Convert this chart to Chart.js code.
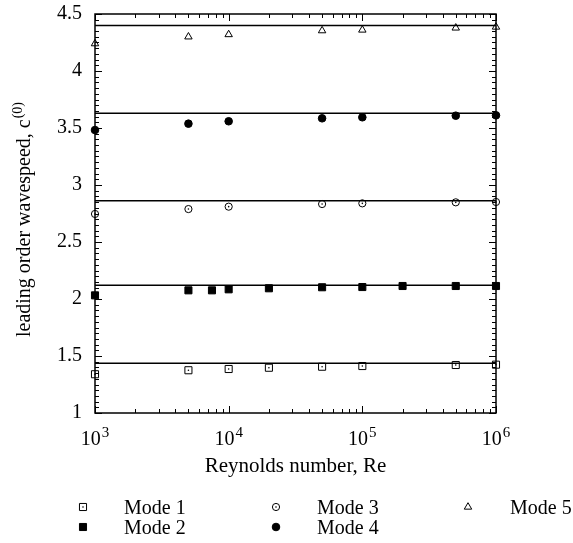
<!DOCTYPE html>
<html>
<head>
<meta charset="utf-8">
<script src="https://cdn.jsdelivr.net/npm/chart.js@4.4.1/dist/chart.umd.min.js"></script>
<style>
  body { margin: 0; background: #fff; }
  #wrap { width: 573px; height: 543px; }
</style>
</head>
<body>
<div id="wrap"><canvas id="waveChart" width="573" height="543"></canvas></div>
<script>
// Reynolds numbers sampled for each mode
const reModes345 = [1e3, 5e3, 1e4, 5e4, 1e5, 5e5, 1e6];
const reMode1 = [1e3, 5e3, 1e4, 2e4, 5e4, 1e5, 5e5, 1e6];
const reMode2 = [1e3, 5e3, 7.5e3, 1e4, 2e4, 5e4, 1e5, 2e5, 5e5, 1e6];

// leading order wavespeed c(0)
const mode1 = [1.340, 1.375, 1.386, 1.397, 1.406, 1.412, 1.421, 1.424];
const mode2 = [2.032, 2.076, 2.076, 2.085, 2.094, 2.103, 2.105, 2.114, 2.114, 2.114];
const mode3 = [2.746, 2.789, 2.810, 2.833, 2.839, 2.848, 2.851];
const mode4 = [3.482, 3.538, 3.559, 3.585, 3.594, 3.608, 3.611];
const mode5 = [4.240, 4.300, 4.320, 4.354, 4.360, 4.378, 4.386];

// asymptotic (large Re) values drawn as horizontal lines
const asymptotes = [1.436, 2.120, 2.862, 3.629, 4.400];
const lineRange = [1e3, 1e6];

const modeLabels = ['Mode 1', 'Mode 2', 'Mode 3', 'Mode 4', 'Mode 5'];
const yTickValues = [1, 1.5, 2, 2.5, 3, 3.5, 4, 4.5];
const xTickExponents = [3, 4, 5, 6];

const FONT = '"Liberation Serif", "DejaVu Serif", serif';

// marker look per mode (open ones get a small centre dot for modes 1 and 3)
const markerStyles = [
    { pointStyle: 'rect', radius: 5, filled: false, dot: true },
    { pointStyle: 'rect', radius: 5, filled: true, dot: false },
    { pointStyle: 'circle', radius: 3.6, filled: false, dot: true },
    { pointStyle: 'circle', radius: 3.8, filled: true, dot: false },
    { pointStyle: 'triangle', radius: 4.3, filled: false, dot: false }
];

const xs = [reMode1, reMode2, reModes345, reModes345, reModes345];
const ys = [mode1, mode2, mode3, mode4, mode5];

const datasets = [];
ys.forEach((vals, m) => {
    const st = markerStyles[m];
    datasets.push({
        label: modeLabels[m],
        data: vals.map((v, i) => ({ x: xs[m][i], y: v })),
        pointStyle: st.pointStyle,
        pointRadius: st.radius,
        pointBorderWidth: 1,
        pointBorderColor: '#000',
        pointBackgroundColor: st.filled ? '#000' : 'rgba(0,0,0,0)',
        showLine: false,
        clip: false,
        order: 0
    });
});
asymptotes.forEach((v, m) => {
    datasets.push({
        label: 'asym' + (m + 1),
        data: lineRange.map(x => ({ x: x, y: v })),
        showLine: true,
        borderColor: '#000',
        borderWidth: 1.5,
        pointRadius: 0,
        order: 1
    });
});

function markerOpts(m) {
    const st = markerStyles[m];
    return {
        pointStyle: st.pointStyle, radius: st.radius, rotation: 0,
        borderWidth: 1
    };
}

// frame, inward ticks, labels, titles and legend
const axesPlugin = {
    id: 'axesPlugin',
    beforeDatasetsDraw(chart) {
        const ctx = chart.ctx;
        const a = chart.chartArea;
        const xs_ = chart.scales.x, ys_ = chart.scales.y;
        ctx.save();
        ctx.strokeStyle = '#000';
        ctx.lineWidth = 1.5;
        ctx.strokeRect(a.left, a.top, a.right - a.left, a.bottom - a.top);
        ctx.lineWidth = 1;
        ctx.beginPath();
        // y ticks, every 0.05, major every 0.5
        for (let i = 0; i <= 70; i++) {
            const y = Math.round(ys_.getPixelForValue(1 + i * 0.05)) + 0.5;
            const len = (i % 10 === 0) ? 7 : 4;
            ctx.moveTo(a.left, y); ctx.lineTo(a.left + len, y);
            ctx.moveTo(a.right, y); ctx.lineTo(a.right - len, y);
        }
        // x ticks, log decades
        for (let d = 3; d <= 6; d++) {
            for (let k = 1; k <= 9; k++) {
                if (d === 6 && k > 1) break;
                const x = Math.round(xs_.getPixelForValue(k * Math.pow(10, d))) + 0.5;
                const len = (k === 1) ? 7 : 4;
                ctx.moveTo(x, a.bottom); ctx.lineTo(x, a.bottom - len);
                ctx.moveTo(x, a.top); ctx.lineTo(x, a.top + len);
            }
        }
        ctx.stroke();
        ctx.restore();
    },
    afterDatasetsDraw(chart) {
        // centre dots on the open square / open circle markers
        const ctx = chart.ctx;
        ctx.save();
        ctx.fillStyle = '#000';
        markerStyles.forEach((st, m) => {
            if (!st.dot) return;
            chart.getDatasetMeta(m).data.forEach(pt => {
                ctx.beginPath();
                ctx.arc(pt.x, pt.y, 0.8, 0, Math.PI * 2);
                ctx.fill();
            });
        });
        ctx.restore();
    },
    afterDraw(chart) {
        const ctx = chart.ctx;
        const a = chart.chartArea;
        const xs_ = chart.scales.x, ys_ = chart.scales.y;
        ctx.save();
        ctx.fillStyle = '#000';

        // y tick labels
        ctx.font = '20px ' + FONT;
        ctx.textAlign = 'right';
        ctx.textBaseline = 'middle';
        yTickValues.forEach(v => {
            ctx.fillText(String(v), 82, ys_.getPixelForValue(v));
        });

        // x tick labels 10^n
        ctx.textAlign = 'left';
        ctx.textBaseline = 'alphabetic';
        xTickExponents.forEach(e => {
            const x = xs_.getPixelForValue(Math.pow(10, e));
            ctx.font = '20px ' + FONT;
            const wBase = ctx.measureText('10').width;
            ctx.font = '15px ' + FONT;
            const wExp = ctx.measureText(String(e)).width;
            const x0 = x - (wBase + wExp + 1) / 2;
            ctx.font = '20px ' + FONT;
            ctx.fillText('10', x0, 445);
            ctx.font = '15px ' + FONT;
            ctx.fillText(String(e), x0 + wBase + 1, 437);
        });

        // x title
        ctx.font = '21px ' + FONT;
        ctx.textAlign = 'center';
        ctx.fillText('Reynolds number, Re', (a.left + a.right) / 2, 472);

        // y title, rotated
        ctx.save();
        ctx.translate(30, 337);
        ctx.rotate(-Math.PI / 2);
        ctx.textAlign = 'left';
        ctx.font = '20px ' + FONT;
        const yTitle = 'leading order wavespeed, c';
        ctx.fillText(yTitle, 0, 0);
        const wTitle = ctx.measureText(yTitle).width;
        ctx.font = '14px ' + FONT;
        ctx.fillText('(0)', wTitle + 1, -8);
        ctx.restore();

        // legend: three columns, filled column-wise
        const colMarker = [83, 276, 468];
        const colText = [124, 317, 510];
        const rowY = [507, 527];
        ctx.font = '20px ' + FONT;
        ctx.textAlign = 'left';
        ctx.strokeStyle = '#000';
        ctx.lineWidth = 1;
        modeLabels.forEach((lab, m) => {
            const col = Math.floor(m / 2), row = m % 2;
            const st = markerStyles[m];
            const mx = colMarker[col], my = rowY[row];
            ctx.fillStyle = st.filled ? '#000' : 'rgba(0,0,0,0)';
            Chart.helpers.drawPoint(ctx, markerOpts(m), mx, my);
            ctx.fillStyle = '#000';
            if (st.dot) {
                ctx.beginPath();
                ctx.arc(mx, my, 0.8, 0, Math.PI * 2);
                ctx.fill();
            }
            ctx.fillText(lab, colText[col], my + 7);
        });
        ctx.restore();
    }
};

new Chart(document.getElementById('waveChart'), {
    type: 'scatter',
    data: { datasets: datasets },
    options: {
        responsive: false,
        animation: false,
        devicePixelRatio: 1,
        layout: { padding: { left: 95, right: 77, top: 14, bottom: 130 } },
        plugins: { legend: { display: false }, tooltip: { enabled: false } },
        scales: {
            x: { type: 'logarithmic', min: 1e3, max: 1e6, display: false },
            y: { type: 'linear', min: 1, max: 4.5, display: false }
        }
    },
    plugins: [axesPlugin]
});
</script>
</body>
</html>
